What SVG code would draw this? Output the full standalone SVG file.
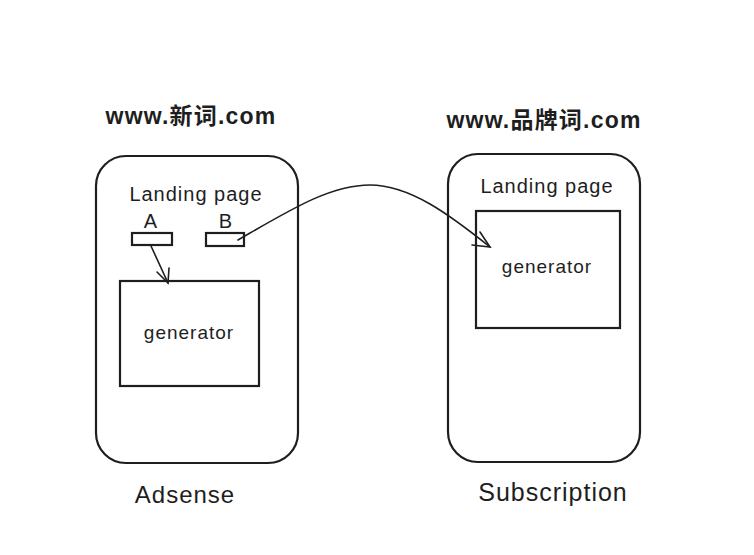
<svg xmlns="http://www.w3.org/2000/svg" width="754" height="555" viewBox="0 0 754 555">
<style>
.box{fill:none;stroke:#1e1e1e;stroke-width:2.2;stroke-linecap:round}
.thin{fill:none;stroke:#1e1e1e;stroke-width:1.6;stroke-linecap:round}
.t{font-family:"Liberation Sans","Noto Sans CJK SC",sans-serif;fill:#1e1e1e;text-anchor:middle}
.h{font-size:23px;font-weight:bold;letter-spacing:1.2px}
.m{font-size:20px;letter-spacing:1px}
.s{font-size:19px;letter-spacing:1px}
.l{font-size:24px;letter-spacing:1px}
</style>
<rect width="754" height="555" fill="#ffffff"/>
<g id="title-left"><text class="t h" x="191" y="124">www.新词.com</text></g>
<g id="title-right"><text class="t h" x="544" y="128">www.品牌词.com</text></g>
<g id="phone-left">
<rect class="box" x="96" y="156" width="202" height="307" rx="30"/>
<text class="t m" x="196" y="201">Landing page</text>
</g>
<g id="btn-a">
<text class="t m" x="151" y="228">A</text>
<rect class="box" x="132" y="233" width="40" height="12"/>
</g>
<g id="btn-b">
<text class="t m" x="226" y="228">B</text>
<rect class="box" x="206" y="233" width="38" height="13"/>
</g>
<g id="gen-left">
<rect class="box" x="120" y="281" width="139" height="105"/>
<text class="t s" x="189" y="339">generator</text>
</g>
<g id="phone-right">
<rect class="box" x="448" y="154" width="192" height="308" rx="30"/>
<text class="t m" x="547" y="193">Landing page</text>
</g>
<g id="gen-right">
<rect class="box" x="476" y="211" width="144" height="117"/>
<text class="t s" x="547" y="273">generator</text>
</g>
<g id="label-adsense"><text class="t l" x="185" y="503">Adsense</text></g>
<g id="label-sub"><text class="t l" style="font-size:25px" x="553" y="501">Subscription</text></g>
<g id="connectors">
<path class="thin" d="M151 246 L168 283"/>
<path class="thin" d="M157 272 L168 283 L169 268"/>
<path class="thin" d="M238 240 C290 210 330 185 370 185 C410 185 450 215 490 247"/>
<path class="thin" d="M472 245 L490 247 L480 232"/>
</g>
</svg>
